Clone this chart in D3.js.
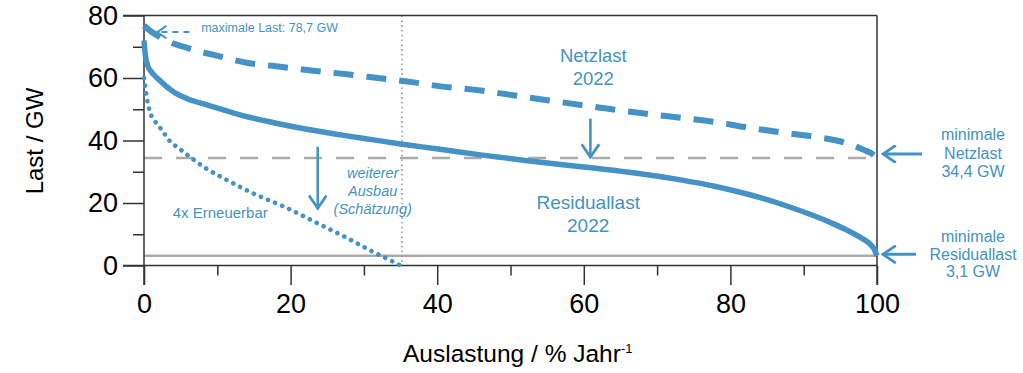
<!DOCTYPE html>
<html>
<head>
<meta charset="utf-8">
<script src="https://cdn.jsdelivr.net/npm/d3@7"></script>
<style>
  body { margin: 0; background: #fff; }
  svg { display: block; font-family: "Liberation Sans", Arial, sans-serif; }
</style>
</head>
<body>
<div id="chart"></div>
<script>
// Auslastung (% of year) -> Last (GW)
const netzlast = [
  [0, 76.8], [1, 74.8], [2.2, 73.1], [3.5, 71.5], [5.4, 70], [7.5, 68.5], [9.5, 67.4],
  [12, 65.9], [14, 64.9], [18.6, 63.6], [23.1, 62.3], [27.7, 61.2], [32.2, 59.9],
  [36.8, 58.6], [40.2, 57.4], [45.9, 56], [50, 54.6], [55, 52.9], [62.3, 50.5],
  [68, 48.7], [73.2, 47.3], [77.7, 46], [82, 44.3], [86.9, 42.6], [91.4, 41.2],
  [95.5, 39.4], [98.2, 37], [99.3, 35.8], [100, 34.4]
];
const residuallast = [
  [0, 72], [0.2, 67], [0.5, 64], [1, 62], [2, 59.5], [4, 55.6], [6, 53.3], [8.6, 51.4],
  [13.1, 48.2], [17.7, 45.7], [22.2, 43.6], [26.8, 41.8], [31.3, 40.2], [35, 38.9],
  [40.4, 37.2], [45.9, 35.4], [52, 33.6], [61, 31.25], [67, 29.6], [73.2, 27.4],
  [78, 25.3], [82.4, 22.8], [87, 19.6], [91.4, 15.9], [94, 13.4], [96, 11.2],
  [98, 8.6], [99, 7], [99.6, 5.3], [100, 3.1]
];
const erneuerbar4x = [
  [0, 60], [0.1, 58.3], [0.4, 53.5], [0.8, 49.2], [1.3, 46.8], [1.9, 45], [2.6, 42.8],
  [3.6, 39.6], [4.7, 37.6], [6.3, 34.7], [8.5, 31], [10.8, 28], [14.5, 23.5],
  [19.5, 18.4], [23.6, 13.6], [27.7, 8.8], [31.3, 4.3], [34, 1.2], [35, 0]
];
const maxLast = 78.7;
const minNetzlast = 34.4;
const minResiduallast = 3.1;
const ausbauGrenze = 35.2;   // vertical dotted line
const xTicks = [0, 20, 40, 60, 80, 100];
const xMinorTicks = [10, 30, 50, 70, 90];
const yTicks = [0, 20, 40, 60, 80];
const yMinorTicks = [10, 30, 50, 70];

const W = 1023, H = 373;
const blue = "#4592c6";
const gray = "#aaaaaa";
const axisColor = "#333";

const svg = d3.select("#chart").append("svg")
  .attr("width", W).attr("height", H);

const x = d3.scaleLinear().domain([0, 100]).range([144, 877]);
const y = d3.scaleLinear().domain([0, 80]).range([265.5, 15.5]);

// arrow heads
const defs = svg.append("defs");
function marker(id, size) {
  defs.append("marker")
    .attr("id", id)
    .attr("viewBox", "-12 -8 14 16")
    .attr("refX", 0).attr("refY", 0)
    .attr("markerUnits", "userSpaceOnUse")
    .attr("markerWidth", size * 14 / 12).attr("markerHeight", size * 16 / 12)
    .attr("orient", "auto")
    .append("path")
    .attr("d", "M-11,-7.5L0,0L-11,7.5")
    .attr("fill", "none")
    .attr("stroke", blue)
    .attr("stroke-width", 2.4);
}
marker("head", 14);
marker("headSmall", 10);

// reference lines
svg.append("line")
  .attr("x1", x(0)).attr("x2", x(100))
  .attr("y1", y(minNetzlast)).attr("y2", y(minNetzlast))
  .attr("stroke", gray).attr("stroke-width", 2.5)
  .attr("stroke-dasharray", "18 14");
svg.append("line")
  .attr("x1", x(0)).attr("x2", x(100))
  .attr("y1", y(minResiduallast)).attr("y2", y(minResiduallast))
  .attr("stroke", gray).attr("stroke-width", 2.5);
svg.append("line")
  .attr("x1", x(ausbauGrenze)).attr("x2", x(ausbauGrenze))
  .attr("y1", y(80)).attr("y2", y(0))
  .attr("stroke", "#999").attr("stroke-width", 1.6)
  .attr("stroke-dasharray", "1.6 3.2");

// axes
const axisG = svg.append("g").attr("class", "axes");
function styleAxis(g) {
  g.select(".domain").remove();
  g.selectAll("line").attr("stroke", axisColor).attr("stroke-width", 1.5);
  g.selectAll("text").attr("fill", "#000")
    .attr("font-family", "Liberation Sans, Arial, sans-serif")
    .attr("font-size", 27);
}
axisG.append("g")
  .attr("transform", `translate(${x(0)},0)`)
  .call(d3.axisLeft(y).tickValues(yTicks).tickSize(21).tickPadding(5).tickFormat(d3.format("d")))
  .call(styleAxis);
axisG.append("g")
  .attr("transform", `translate(${x(0)},0)`)
  .call(d3.axisLeft(y).tickValues(yMinorTicks).tickSize(11).tickFormat(""))
  .call(styleAxis);
axisG.append("g")
  .attr("transform", `translate(0,${y(0)})`)
  .call(d3.axisBottom(x).tickValues(xTicks).tickSize(19.5).tickPadding(9).tickFormat(d3.format("d")))
  .call(styleAxis);
axisG.append("g")
  .attr("transform", `translate(0,${y(0)})`)
  .call(d3.axisBottom(x).tickValues(xMinorTicks).tickSize(10).tickFormat(""))
  .call(styleAxis);

// frame
const frame = [
  [x(0) - 21, y(80), x(100), y(80)],
  [x(0) - 21, y(0), x(100), y(0)],
  [x(0), y(80), x(0), y(0) + 19.5],
  [x(100), y(80), x(100), y(0) + 19.5]
];
axisG.selectAll("line.frame").data(frame).join("line")
  .attr("class", "frame")
  .attr("x1", d => d[0]).attr("y1", d => d[1])
  .attr("x2", d => d[2]).attr("y2", d => d[3])
  .attr("stroke", axisColor).attr("stroke-width", 1.5);

// curves
const line = d3.line().x(d => x(d[0])).y(d => y(d[1])).curve(d3.curveMonotoneX);
svg.append("path").datum(netzlast)
  .attr("d", line).attr("fill", "none")
  .attr("stroke", blue).attr("stroke-width", 6)
  .attr("stroke-dasharray", "20 13");
svg.append("path").datum(residuallast)
  .attr("d", line).attr("fill", "none")
  .attr("stroke", blue).attr("stroke-width", 5.5)
  .attr("stroke-linejoin", "round");
svg.append("path").datum(erneuerbar4x)
  .attr("d", line).attr("fill", "none")
  .attr("stroke", blue).attr("stroke-width", 4.6)
  .attr("stroke-linecap", "round")
  .attr("stroke-dasharray", "0.1 7.6");

// axis titles
svg.append("text")
  .attr("transform", `translate(43,141) rotate(-90)`)
  .attr("text-anchor", "middle")
  .attr("font-size", 24)
  .text("Last / GW");
const xt = svg.append("text")
  .attr("x", 403).attr("y", 362)
  .attr("font-size", 24.5);
xt.append("tspan").text("Auslastung / % Jahr");
xt.append("tspan").attr("dy", -9).attr("font-size", 13).text("-1");

// annotations
const ann = svg.append("g").attr("fill", blue);

function arrow(x1, y1, x2, y2, w, head, dash) {
  const l = svg.append("line")
    .attr("x1", x1).attr("y1", y1).attr("x2", x2).attr("y2", y2)
    .attr("stroke", blue).attr("stroke-width", w)
    .attr("marker-end", `url(#${head})`);
  if (dash) l.attr("stroke-dasharray", dash);
}

// maximale Last
arrow(x(6.2), y(maxLast) + 12.5, x(1.8), y(maxLast) + 12.5, 2, "headSmall", "6 5");
ann.append("text").attr("x", x(7.8)).attr("y", 32).attr("font-size", 12.5)
  .text("maximale Last: 78,7 GW");

// Netzlast 2022
ann.selectAll("text.netz").data(["Netzlast", "2022"]).join("text")
  .attr("class", "netz")
  .attr("x", x(61.3)).attr("y", (d, i) => 62 + i * 23)
  .attr("text-anchor", "middle").attr("font-size", 18.5)
  .text(d => d);
arrow(x(60.9), y(47), x(60.9), y(minNetzlast) - 1, 2.6, "head");

// Residuallast 2022
ann.selectAll("text.resid").data(["Residuallast", "2022"]).join("text")
  .attr("class", "resid")
  .attr("x", x(60.6)).attr("y", (d, i) => 209 + i * 23)
  .attr("text-anchor", "middle").attr("font-size", 19)
  .text(d => d);

// weiterer Ausbau
ann.selectAll("text.ausbau").data(["weiterer", "Ausbau", "(Schätzung)"]).join("text")
  .attr("class", "ausbau")
  .attr("x", x(31.2)).attr("y", (d, i) => 178 + i * 18)
  .attr("text-anchor", "middle").attr("font-size", 14.5).attr("font-style", "italic")
  .text(d => d);
arrow(x(23.7), y(38), x(23.7), y(18) - 1, 2.6, "head");

ann.append("text").attr("x", x(10.4)).attr("y", 218)
  .attr("text-anchor", "middle").attr("font-size", 15)
  .text("4x Erneuerbar");

// minimale Netzlast / Residuallast
arrow(x(100) + 45, y(minNetzlast) - 4, x(100) + 6, y(minNetzlast) - 4, 3, "head");
arrow(x(100) + 39, y(minResiduallast) - 1.5, x(100) + 6, y(minResiduallast) - 1.5, 3, "head");
ann.selectAll("text.minN").data(["minimale", "Netzlast", "34,4 GW"]).join("text")
  .attr("class", "minN")
  .attr("x", 973).attr("y", (d, i) => 140 + i * 18.5)
  .attr("text-anchor", "middle").attr("font-size", 16)
  .text(d => d);
ann.selectAll("text.minR").data(["minimale", "Residuallast", "3,1 GW"]).join("text")
  .attr("class", "minR")
  .attr("x", 973).attr("y", (d, i) => 242 + i * 17.5)
  .attr("text-anchor", "middle").attr("font-size", 16)
  .text(d => d);
</script>
</body>
</html>
